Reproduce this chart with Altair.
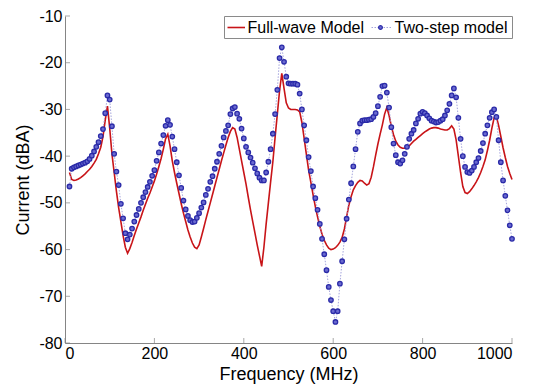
import altair as alt
import pandas as pd

# Frequency grid (MHz) shared by both series
freq = list(range(10, 1005, 5))

# Two-step model (blue dots), dBA
two_step = [
    -46.5, -42.7, -42.4, -42.2, -42.0, -41.8, -41.6, -41.4, -41.1, -40.6,
    -39.9, -39.0, -38.0, -37.0, -35.7, -34.2, -30.8, -27.0, -27.9, -33.6,
    -39.5, -43.3, -46.2, -50.2, -53.3, -56.5, -57.8, -56.8, -55.5, -54.0,
    -52.6, -51.3, -50.0, -48.8, -47.7, -46.6, -45.5, -44.2, -43.0, -41.0,
    -39.2, -37.3, -35.5, -33.5, -32.3, -33.3, -35.8, -38.5, -41.3, -44.1,
    -46.8, -49.5, -51.4, -52.8, -53.7, -54.1, -54.0, -53.2, -52.2, -51.0,
    -49.9, -48.3, -47.0, -45.5, -44.3, -42.7, -41.2, -39.5, -37.8, -36.0,
    -34.6, -33.4, -31.0, -29.8, -29.5, -30.9, -32.0, -34.1, -36.2, -38.0,
    -39.2, -40.3, -41.4, -42.6, -43.7, -44.6, -45.2, -45.2, -43.5, -41.2,
    -38.5, -35.2, -31.0, -25.8, -19.0, -16.7, -19.8, -23.0, -24.4, -24.5,
    -24.5, -24.5, -24.7, -26.6, -30.0, -33.4, -36.6, -40.2, -43.2, -46.5,
    -49.0, -51.5, -54.5, -57.7, -61.0, -64.4, -68.0, -70.8, -73.2, -75.5,
    -73.2, -67.3, -62.5, -57.8, -53.4, -49.3, -45.8, -42.2, -38.5, -34.8,
    -33.0, -32.4, -32.3, -32.3, -32.2, -32.1, -31.6, -30.8, -29.3, -27.3,
    -25.0, -24.9, -26.4, -29.6, -33.8, -37.3, -39.8, -41.3, -41.6, -40.9,
    -39.5, -38.0, -36.3, -35.2, -34.4, -33.0, -32.0, -30.9, -30.5, -30.8,
    -31.3, -31.9, -32.4, -32.6, -32.8, -32.7, -32.4, -32.1, -31.3, -30.2,
    -28.8, -27.0, -25.5, -27.4, -31.8, -36.3, -40.0, -42.3, -43.4, -43.6,
    -43.1, -42.3, -41.3, -40.4, -38.9, -37.2, -35.2, -33.4, -31.8, -30.6,
    -30.0, -31.6, -36.6, -41.3, -45.2, -48.5, -51.6, -54.8, -57.7,
]

# Full-wave model (red line), dBA
full_wave = [
    -43.5, -45.0, -45.2, -45.1, -44.9, -44.6, -44.2, -43.8, -43.3, -42.8,
    -42.2, -41.5, -40.7, -39.5, -38.1, -35.8, -32.3, -29.3, -34.0, -39.5,
    -43.5, -47.5, -51.0, -54.0, -57.0, -59.5, -60.8, -59.8, -58.5, -57.0,
    -55.6, -54.3, -53.0, -51.6, -50.3, -49.0, -47.9, -46.6, -45.3, -43.8,
    -42.2, -40.5, -38.5, -36.3, -35.3, -37.8, -41.0, -43.5, -45.8, -48.0,
    -50.2, -52.2, -54.0, -55.8, -57.3, -58.6, -59.5, -59.8, -59.0, -57.3,
    -55.5, -53.6, -51.8, -50.0, -48.2, -46.4, -44.6, -42.8, -41.0, -39.3,
    -37.6, -36.0, -34.7, -33.9, -34.2, -36.0, -38.5, -41.0, -43.5, -46.0,
    -48.8, -51.5, -54.0, -56.5, -59.0, -61.3, -63.6, -59.5, -54.5, -50.0,
    -45.5, -41.2, -36.0, -31.0, -26.0, -22.3, -25.5, -28.6, -29.7, -30.0,
    -30.0, -30.0, -30.1, -30.5, -32.8, -36.2, -39.6, -43.0, -45.6, -48.3,
    -50.8, -53.0, -55.0, -56.7, -58.0, -59.0, -59.7, -60.0, -59.9, -59.6,
    -59.1, -58.4, -57.4, -55.6, -53.0, -50.5, -48.7, -47.2, -46.3, -45.6,
    -45.2, -45.3, -45.8, -46.2, -45.9, -44.5, -42.3, -39.8, -37.4, -35.3,
    -33.3, -31.0, -29.6, -31.3, -33.6, -35.4, -36.8, -37.6, -38.1, -38.3,
    -38.3, -38.1, -37.8, -37.3, -36.8, -36.4, -36.0, -35.6, -35.2, -34.8,
    -34.5, -34.2, -34.0, -33.9, -33.9, -34.0, -34.2, -34.3, -34.4, -34.4,
    -34.1, -33.5, -34.2, -36.5, -40.0, -43.5, -46.5, -47.8, -48.0, -47.6,
    -47.0, -46.3, -45.5, -44.6, -43.5, -42.2, -40.8, -38.8, -36.6, -34.0,
    -31.8, -31.5, -33.4, -35.8, -38.2, -40.3, -42.2, -43.7, -45.0,
]

x_ticks = [0, 200, 400, 600, 800, 1000]
y_ticks = [-80, -70, -60, -50, -40, -30, -20, -10]
legend_labels = ["Full-wave Model", "Two-step model"]

assert len(freq) == len(two_step) == len(full_wave)

W, H = 447, 327
FONT = "Liberation Sans"
RED = "#c81418"
BLUE = "#2a2aa8"
AXIS_GREY = "#858585"

df_red = pd.DataFrame({"f": freq, "v": full_wave})
df_blue = pd.DataFrame({"f": freq, "v": two_step})

xs = alt.Scale(domain=[0, 1000], nice=False, zero=False)
ys = alt.Scale(domain=[-80, -10], nice=False, zero=False)

x_axis = alt.Axis(values=x_ticks, tickSize=0, labelFont=FONT, labelFontSize=16,
                  labelColor="black", domainColor=AXIS_GREY, grid=False,
                  labelExpr="toString(datum.value)",
                  labelPadding=2, title="Frequency (MHz)", titleFont=FONT,
                  titleFontSize=18, titleFontWeight="normal", titleColor="black",
                  titlePadding=4)
y_axis = alt.Axis(values=y_ticks, tickSize=0, labelFont=FONT, labelFontSize=16,
                  labelColor="black", domainColor=AXIS_GREY, grid=False,
                  labelExpr="toString(datum.value)",
                  labelPadding=3, title="Current (dBA)", titleFont=FONT,
                  titleFontSize=18, titleFontWeight="normal", titleColor="black",
                  titlePadding=6)

red_line = alt.Chart(df_red).mark_line(color=RED, strokeWidth=1.6).encode(
    x=alt.X("f:Q", scale=xs, axis=x_axis),
    y=alt.Y("v:Q", scale=ys, axis=y_axis),
)

blue_line = alt.Chart(df_blue).mark_line(
    color="#9a9ad8", strokeWidth=0.9, strokeDash=[1.5, 1.5]
).encode(x=alt.X("f:Q", scale=xs), y=alt.Y("v:Q", scale=ys))

blue_pts = alt.Chart(df_blue).mark_point(
    shape="circle", size=20, fill="#6a6ad0", fillOpacity=1, stroke=BLUE,
    strokeWidth=1.3, opacity=1
).encode(x=alt.X("f:Q", scale=xs), y=alt.Y("v:Q", scale=ys))

# inward tick marks
xt = alt.Chart(pd.DataFrame({"t": x_ticks})).mark_tick(
    orient="vertical", color=AXIS_GREY, size=5, thickness=1
).encode(x=alt.X("t:Q", scale=xs), y=alt.value(H - 2.5))
yt = alt.Chart(pd.DataFrame({"t": y_ticks})).mark_tick(
    orient="horizontal", color=AXIS_GREY, size=5, thickness=1
).encode(y=alt.Y("t:Q", scale=ys), x=alt.value(2.5))

# legend box
one = pd.DataFrame({"k": [0]})
leg_box = alt.Chart(one).mark_rect(fill="white", stroke="#8a8a8a", strokeWidth=1).encode(
    x=alt.value(159.5), x2=alt.value(447.5), y=alt.value(0.5), y2=alt.value(22.5)
)
leg_red = alt.Chart(one).mark_rule(color=RED, strokeWidth=1.6).encode(
    x=alt.value(162.5), x2=alt.value(180), y=alt.value(11.5)
)
leg_txt1 = alt.Chart(one).mark_text(
    text=legend_labels[0], font=FONT, fontSize=16, align="left", baseline="middle", color="black"
).encode(x=alt.value(182.5), y=alt.value(12))
leg_bline = alt.Chart(one).mark_rule(color="#9a9ad8", strokeWidth=0.9, strokeDash=[1.5, 1.5]).encode(
    x=alt.value(306.5), x2=alt.value(326.5), y=alt.value(11.5)
)
leg_bpt = alt.Chart(one).mark_point(
    shape="circle", size=14, fill="#6a6ad0", fillOpacity=1, stroke=BLUE, strokeWidth=1.2, opacity=1
).encode(x=alt.value(315.5), y=alt.value(11.5))
leg_txt2 = alt.Chart(one).mark_text(
    text=legend_labels[1], font=FONT, fontSize=16, align="left", baseline="middle", color="black"
).encode(x=alt.value(329.5), y=alt.value(12))

chart = alt.layer(
    red_line, blue_line, blue_pts, xt, yt,
    leg_box, leg_red, leg_txt1, leg_bline, leg_bpt, leg_txt2,
).properties(
    width=W, height=H, autosize="none",
    padding={"left": 65, "top": 16, "right": 23, "bottom": 45},
    background="white",
).configure_view(strokeWidth=0)

chart.save("out.html", embed_options={"renderer": "svg", "actions": False})
